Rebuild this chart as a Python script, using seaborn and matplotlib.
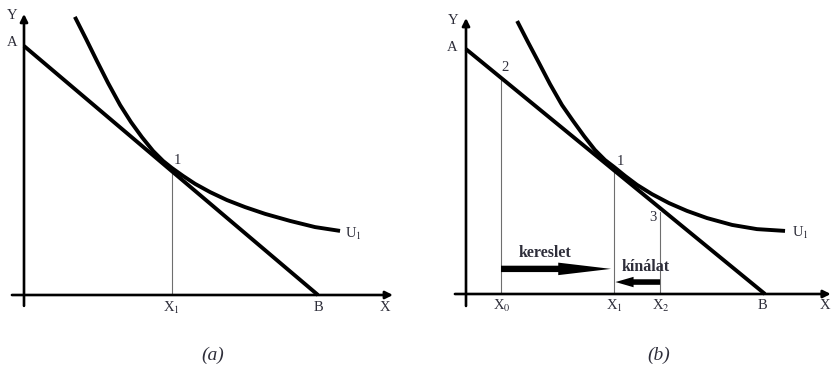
import matplotlib
matplotlib.use("Agg")
import matplotlib.pyplot as plt
import seaborn as sns
import pandas as pd

sns.set_style("white")
plt.rcParams["font.family"] = ["Liberation Serif", "DejaVu Serif"]
plt.rcParams["mathtext.fontset"] = "stix"

# ---------------- data (units: B = 10) ----------------
# panel (a)
a_budget_x = [0.0, 10.0]
a_budget_y = [8.47, 0.0]
a_curve_x = [1.73, 2.11, 2.48, 2.86, 3.27, 3.64, 4.01, 4.39, 4.73, 5.03,
             5.41, 5.82, 6.33, 6.90, 7.52, 8.20, 9.05, 9.90, 10.75]
a_curve_y = [9.46, 8.71, 7.96, 7.21, 6.46, 5.88, 5.37, 4.90, 4.56, 4.32,
             4.05, 3.78, 3.50, 3.23, 2.99, 2.76, 2.52, 2.31, 2.18]
a_point_x = [5.03]
a_point_y = [4.30]
a_tick_labels = ["X$_1$"]

# panel (b)
b_budget_x = [0.0, 10.0]
b_budget_y = [8.19, 0.0]
b_curve_x = [1.71, 2.07, 2.44, 2.81, 3.21, 3.58, 3.95, 4.31, 4.65, 4.95,
             5.32, 5.72, 6.22, 6.79, 7.39, 8.06, 8.90, 9.73, 10.67]
b_curve_y = [9.13, 8.43, 7.73, 7.02, 6.32, 5.79, 5.28, 4.82, 4.48, 4.25,
             3.95, 3.65, 3.34, 3.04, 2.78, 2.54, 2.31, 2.17, 2.11]
b_point_x = [1.17, 4.95, 6.49]          # X0, X1, X2
b_point_y = [7.23, 4.17, 2.75]          # points 2, 1, 3
b_tick_labels = ["X$_0$", "X$_1$", "X$_2$"]
b_point_names = ["2", "1", "3"]
b_arrow_levels = [0.84, 0.40]           # kereslet, kínálat
b_arrow_labels = ["kereslet", "kínálat"]

W, H = 831, 369
fig = plt.figure(figsize=(W / 100, H / 100), dpi=100)

TXT = "#2e2e3a"
LW = 2.8
FS = 10.5


def make_axes(left_px, width_px, ox, oy, scale):
    ax = fig.add_axes([left_px / W, 0, width_px / W, 1])
    return ax


def fix_axes(ax, left_px, width_px, ox, oy, scale):
    ax.set_xlim((left_px - ox) / scale, (left_px + width_px - ox) / scale)
    ax.set_ylim((oy - H) / scale, oy / scale)
    ax.axis("off")


def axis_arrows(ax, x0, x1, y0, y1):
    ap = dict(arrowstyle="-|>", lw=1.9, color="black", mutation_scale=11,
              shrinkA=0, shrinkB=0)
    ax.annotate("", xy=(x1, 0), xytext=(x0, 0), arrowprops=ap, annotation_clip=False)
    ax.annotate("", xy=(0, y1), xytext=(0, y0), arrowprops=ap, annotation_clip=False)


def lab(ax, x, y, s, size=FS, ha="center", **kw):
    ax.text(x, y, s, fontsize=size, color=TXT, ha=ha, va="center",
            clip_on=False, **kw)


def draw_line(ax, xs, ys):
    sns.lineplot(data=pd.DataFrame({"x": xs, "y": ys}), x="x", y="y", ax=ax,
                 color="black", lw=LW, estimator=None, sort=False,
                 solid_joinstyle="round", solid_capstyle="butt")


# ---------------- panel (a) ----------------
A_GEOM = (0, 415, 24, 295, 29.4)
axa = make_axes(*A_GEOM[:2], *A_GEOM[2:])
axis_arrows(axa, -0.41, 12.55, -0.37, 9.56)
for px, py in zip(a_point_x, a_point_y):
    axa.plot([px, px], [0, py], color="#6e6e6e", lw=0.8)
draw_line(axa, a_budget_x, a_budget_y)
draw_line(axa, a_curve_x, a_curve_y)
fix_axes(axa, *A_GEOM)
lab(axa, -0.41, 9.52, "Y")
lab(axa, -0.41, 8.60, "A")
lab(axa, 5.22, 4.58, "1")
lab(axa, a_curve_x[-1] + 0.17, a_curve_y[-1] - 0.1, "U$_1$", ha="left")
for px, t in zip(a_point_x, a_tick_labels):
    lab(axa, px, -0.44, t)
lab(axa, a_budget_x[1], -0.41, "B")
lab(axa, 12.28, -0.44, "X")
lab(axa, 6.43, -2.04, "(a)", size=14, style="italic")

# ---------------- panel (b) ----------------
B_GEOM = (420, 411, 466, 294, 29.9)
axb = make_axes(*B_GEOM[:2], *B_GEOM[2:])
axis_arrows(axb, -0.37, 12.2, -0.40, 9.23)
for px, py in zip(b_point_x, b_point_y):
    axb.plot([px, px], [0, py], color="#6e6e6e", lw=0.8)
draw_line(axb, b_budget_x, b_budget_y)
draw_line(axb, b_curve_x, b_curve_y)
fix_axes(axb, *B_GEOM)

# arrows: kereslet (X0 -> X1), kínálat (X2 -> X1)
axb.annotate("", xy=(b_point_x[1] - 0.1, b_arrow_levels[0]),
             xytext=(b_point_x[0], b_arrow_levels[0]),
             arrowprops=dict(arrowstyle="simple,head_length=38,head_width=9,tail_width=4.6",
                             mutation_scale=1, color="black", lw=0, shrinkA=0, shrinkB=0))
axb.annotate("", xy=(b_point_x[1] + 0.05, b_arrow_levels[1]),
             xytext=(b_point_x[2], b_arrow_levels[1]),
             arrowprops=dict(arrowstyle="simple,head_length=13,head_width=7.5,tail_width=4",
                             mutation_scale=1, color="black", lw=0, shrinkA=0, shrinkB=0))
lab(axb, 2.64, 1.36, b_arrow_labels[0], size=11.5, weight="bold")
lab(axb, 6.02, 0.89, b_arrow_labels[1], size=11.5, weight="bold")

lab(axb, -0.43, 9.16, "Y")
lab(axb, -0.47, 8.23, "A")
name_offsets = [(0.13, 0.33), (0.20, 0.26), (-0.24, -0.20)]
for px, py, nm, (dx, dy) in zip(b_point_x, b_point_y, b_point_names, name_offsets):
    lab(axb, px + dx, py + dy, nm)
lab(axb, b_curve_x[-1] + 0.23, b_curve_y[-1] - 0.07, "U$_1$", ha="left")
for px, t in zip(b_point_x, b_tick_labels):
    lab(axb, px + 0.03, -0.40, t)
lab(axb, b_budget_x[1] - 0.07, -0.40, "B")
lab(axb, 12.0, -0.40, "X")
lab(axb, 6.45, -2.04, "(b)", size=14, style="italic")

fig.savefig("out.png", dpi=100)
